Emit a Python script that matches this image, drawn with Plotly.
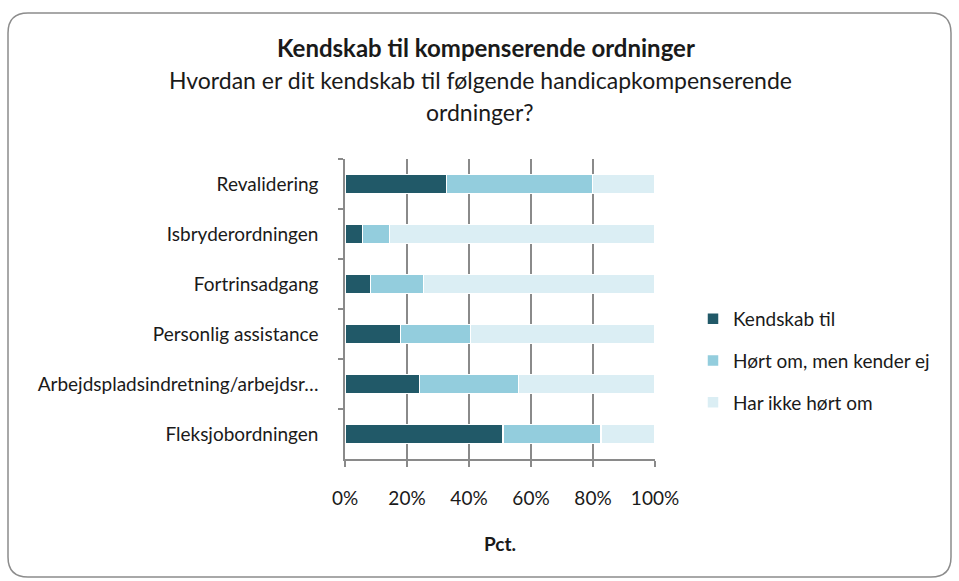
import plotly.graph_objects as go

categories = ["Revalidering", "Isbryderordningen", "Fortrinsadgang", "Personlig assistance",
              "Arbejdspladsindretning/arbejdsr…", "Fleksjobordningen"]
series_names = ["Kendskab til", "Hørt om, men kender ej", "Har ikke hørt om"]
kendskab = [32.7, 5.6, 8.2, 17.9, 24.1, 51.0]
hoert_om = [47.2, 8.7, 17.1, 22.6, 31.8, 31.6]
ikke_hoert = [20.1, 85.7, 74.7, 59.5, 44.1, 17.4]
x_ticks = [0, 20, 40, 60, 80, 100]
x_tick_labels = ["0%", "20%", "40%", "60%", "80%", "100%"]
colors = ["#215968", "#93CDDD", "#DBEEF4"]

W, H = 959, 581
L, R, T, B = 345, 655, 159, 459
FONT = "Lato"

def px(x):
    return (x - L) / (R - L)

def py(y):
    return (B - y) / (B - T)

fig = go.Figure()
for name, vals, col in zip(series_names, [kendskab, hoert_om, ikke_hoert], colors):
    fig.add_trace(go.Bar(
        y=categories, x=vals, name=name, orientation="h",
        marker=dict(color=col, line=dict(color="white", width=1.5)),
        width=0.38, legendgroup=name,
    ))

# rounded chart border
x0, y0, x1, y1, r = 8, 13, 951, 577, 20
path = (f"M {px(x0+r)},{py(y0)} L {px(x1-r)},{py(y0)} "
        f"Q {px(x1)},{py(y0)} {px(x1)},{py(y0+r)} L {px(x1)},{py(y1-r)} "
        f"Q {px(x1)},{py(y1)} {px(x1-r)},{py(y1)} L {px(x0+r)},{py(y1)} "
        f"Q {px(x0)},{py(y1)} {px(x0)},{py(y1-r)} L {px(x0)},{py(y0+r)} "
        f"Q {px(x0)},{py(y0)} {px(x0+r)},{py(y0)} Z")

fig.update_layout(
    width=W, height=H,
    margin=dict(l=L, r=W - R, t=T, b=H - B),
    barmode="stack",
    paper_bgcolor="white", plot_bgcolor="white",
    font=dict(family=FONT, size=19, color="#1a1a1a"),
    showlegend=True,
    legend=dict(x=px(693), y=py(300), xanchor="left", yanchor="top",
                traceorder="grouped", tracegroupgap=14,
                font=dict(size=19, family=FONT), itemwidth=30),
    shapes=[dict(type="path", path=path, xref="paper", yref="paper",
                 line=dict(color="#8c8c8c", width=1.5), layer="below")],
    annotations=[
        dict(text="<b>Kendskab til kompenserende ordninger</b>", x=px(486), y=py(47),
             xref="paper", yref="paper", showarrow=False, font=dict(size=24, family=FONT),
             xanchor="center", yanchor="middle"),
        dict(text="Hvordan er dit kendskab til følgende handicapkompenserende", x=px(480), y=py(80),
             xref="paper", yref="paper", showarrow=False, font=dict(size=23, family=FONT),
             xanchor="center", yanchor="middle"),
        dict(text="ordninger?", x=px(480), y=py(112),
             xref="paper", yref="paper", showarrow=False, font=dict(size=23, family=FONT),
             xanchor="center", yanchor="middle"),
        dict(text="<b>Pct.</b>", x=px(500), y=py(543),
             xref="paper", yref="paper", showarrow=False, font=dict(size=19, family=FONT),
             xanchor="center", yanchor="middle"),
    ],
)
fig.update_xaxes(range=[0, 100], tickvals=x_ticks, ticktext=x_tick_labels,
                 showgrid=True, gridcolor="#8a8a8a", gridwidth=1.5,
                 showline=True, linecolor="#8a8a8a", linewidth=1.5,
                 ticks="outside", ticklen=6, tickcolor="#8a8a8a", tickwidth=1.5,
                 zeroline=False, fixedrange=True, ticklabelstandoff=15)
fig.update_yaxes(autorange="reversed", showline=True, linecolor="#8a8a8a", linewidth=1.5,
                 ticks="outside", ticklen=5, tickcolor="#8a8a8a", tickwidth=1.5,
                 tickson="boundaries", showgrid=False, ticklabelstandoff=21, fixedrange=True)

fig.write_html("out.html", config={"displayModeBar": False},
               post_script="document.body.style.margin='0';")
